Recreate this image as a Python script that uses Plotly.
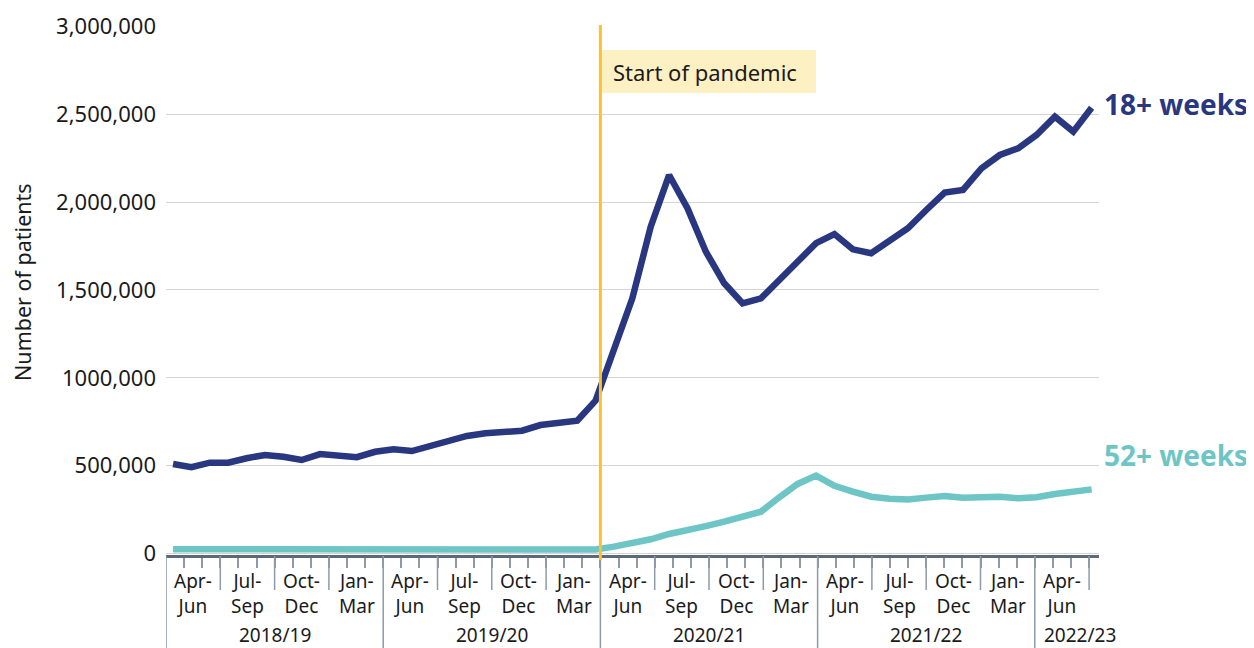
import plotly.graph_objects as go

# ---------------- data ----------------
years = ["2018/19", "2019/20", "2020/21", "2021/22", "2022/23"]
quarter_names = ["Apr-<br>Jun", "Jul-<br>Sep", "Oct-<br>Dec", "Jan-<br>Mar"]
months = [f"{m} {y}" for y in range(2018, 2023) for m in
          ["Jan", "Feb", "Mar", "Apr", "May", "Jun", "Jul", "Aug", "Sep", "Oct", "Nov", "Dec"]][3:54]  # Apr 2018 - Jun 2022

wait18 = [509000, 491000, 517000, 517000, 542000, 561000, 551000, 532000, 566000, 561000, 548000, 579000,
          593000, 583000, 612000, 633000, 669000, 684000, 693000, 699000, 731000, 741000, 756000, 870000,
          1153000, 1452000, 1860000, 2154000, 1965000, 1718000, 1538000, 1424000, 1452000, 1557000, 1670000, 1766000,
          1818000, 1731000, 1709000, 1784000, 1851000, 1955000, 2054000, 2069000, 2192000, 2268000, 2306000, 2382000,
          2486000, 2401000, 2537000]
wait52 = [24000, 24000, 24000, 24000, 24000, 23000, 23000, 23000, 23000, 23000, 23000, 23000,
          22000, 22000, 22000, 22000, 22000, 22000, 22000, 22000, 22000, 22000, 22000, 23000,
          39000, 58000, 81000, 111000, 130000, 156000, 181000, 209000, 238000, 320000, 396000, 443000,
          385000, 352000, 323000, 312000, 308000, 318000, 327000, 318000, 323000, 323000, 314000, 320000,
          339000, 350000, 365000]

y_tickvals = [0, 500000, 1000000, 1500000, 2000000, 2500000, 3000000]
y_ticktext = ["0", "500,000", "1000,000", "1,500,000", "2,000,000", "2,500,000", "3,000,000"]

# ---------------- layout geometry (screen pixels) ----------------
SCREEN_W, SCREEN_H = 1254, 648
OFF = 8                     # default page margin of the html body
W, H = SCREEN_W - OFF, SCREEN_H - OFF
L, R, T, B = 166, 1099, 26, 555
MONTH_PX = 18.1             # width of a month on the tick axis
ZERO_PX, PX_PER_M = 553.5, 175.7
# the source draws the data points slightly stretched relative to the month grid
DATA_OFFSET, DATA_STEP = 0.39, 1.015

NAVY = "#28377f"
TEAL = "#6dc5c6"
ORANGE = "#fcc22d"
TICK = "#8e9aa7"
TXT = "#1a1a1a"
FONT = "Noto Sans"


def py(p):
    return (B - p) / (B - T)


def px(p):
    return (p - L) / (R - L)


def u_of_px(p):
    return (p - L) / MONTH_PX


xs = [DATA_OFFSET + DATA_STEP * i for i in range(len(months))]

fig = go.Figure()
fig.add_trace(go.Scatter(x=xs, y=wait52, mode="lines", name="52+ weeks",
                         line=dict(color=TEAL, width=6.5), text=months, hoverinfo="text+y"))
fig.add_trace(go.Scatter(x=xs, y=wait18, mode="lines", name="18+ weeks",
                         line=dict(color=NAVY, width=6.5), text=months, hoverinfo="text+y"))

shapes = []
# quarter and year separators
for k in range(0, 52, 3):
    y1 = py(SCREEN_H) if k % 12 == 0 else py(590)
    shapes.append(dict(type="line", xref="x", yref="paper", x0=k, x1=k, y0=py(556), y1=y1,
                       line=dict(color=TICK, width=1.5), layer="above"))
# annotation box
shapes.append(dict(type="rect", xref="x", yref="paper", x0=24, x1=u_of_px(816), y0=py(93), y1=py(50),
                   fillcolor="#fdf0c3", line=dict(width=0), layer="above"))
# pandemic line
shapes.append(dict(type="line", xref="x", yref="paper", x0=24, x1=24, y0=py(560), y1=py(25),
                   line=dict(color=ORANGE, width=3), layer="above"))

ann = []
# quarter labels
n_quarters = 17
for q in range(n_quarters):
    ann.append(dict(x=3 * q + 1.5, y=py(593), xref="x", yref="paper", text=quarter_names[q % 4],
                    showarrow=False, font=dict(family=FONT, size=19, color=TXT),
                    xanchor="center", yanchor="middle", align="center"))
# year labels
for yi, yl in enumerate(years):
    cx = 12 * yi + 6 if yi < 4 else u_of_px(1080)
    ann.append(dict(x=cx, y=py(635), xref="x", yref="paper", text=yl, showarrow=False,
                    font=dict(family=FONT, size=19, color=TXT), xanchor="center", yanchor="middle"))
# pandemic text
ann.append(dict(x=24, y=py(71.5), xref="x", yref="paper", text="Start of pandemic", showarrow=False,
                xanchor="left", yanchor="middle", xshift=11,
                font=dict(family=FONT, size=22, color=TXT)))
# series labels
ann.append(dict(x=px(1102), y=py(104), xref="paper", yref="paper", text="<b>18+ weeks</b>", showarrow=False,
                xanchor="left", yanchor="middle", font=dict(family=FONT, size=28, color=NAVY)))
ann.append(dict(x=px(1102), y=py(455), xref="paper", yref="paper", text="<b>52+ weeks</b>", showarrow=False,
                xanchor="left", yanchor="middle", font=dict(family=FONT, size=28, color=TEAL)))
# y title
ann.append(dict(x=px(22), y=py(282), xref="paper", yref="paper", text="Number of patients", showarrow=False,
                textangle=-90, xanchor="center", yanchor="middle",
                font=dict(family=FONT, size=21.5, color=TXT)))

fig.update_layout(
    width=W, height=H,
    margin=dict(l=L - OFF, r=SCREEN_W - R, t=T - OFF, b=SCREEN_H - B, pad=0, autoexpand=False),
    paper_bgcolor="white", plot_bgcolor="white",
    showlegend=False,
    font=dict(family=FONT, color=TXT),
    shapes=shapes, annotations=ann,
    xaxis=dict(range=[0, (R - L) / MONTH_PX], tickvals=list(range(1, 52)), ticks="outside", ticklen=10,
               tickwidth=1.5, tickcolor=TICK, showticklabels=False, showgrid=False, zeroline=False,
               showline=True, linecolor="#5d6977", linewidth=3, fixedrange=True),
    yaxis=dict(range=[(ZERO_PX - B) / PX_PER_M * 1e6, (ZERO_PX - T) / PX_PER_M * 1e6],
               tickvals=y_tickvals, ticktext=y_ticktext, showgrid=True, gridcolor="#d4d4d4", gridwidth=1,
               zeroline=False, showline=False, ticks="", ticklabelstandoff=9,
               tickfont=dict(family=FONT, size=22, color=TXT), fixedrange=True),
)

fig.write_html("out.html")
